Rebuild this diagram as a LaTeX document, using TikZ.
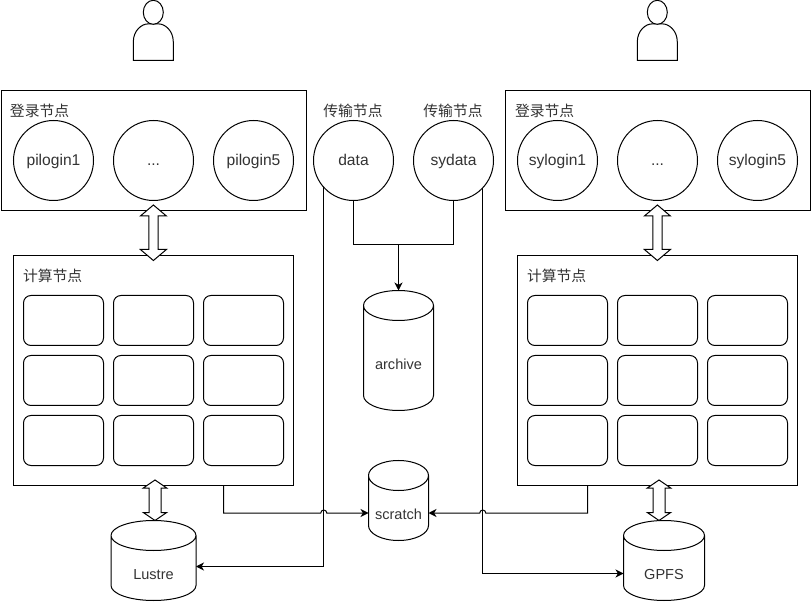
\documentclass[tikz,border=0pt]{standalone}
\usepackage{fontspec}
\setmainfont{Liberation Sans}
\newfontfamily\cjk{Noto Sans CJK SC}
\usetikzlibrary{arrows.meta,calc}
\tikzset{
  x=0.75pt,y=-0.75pt,
  every node/.style={text=black!80,inner sep=0pt,outer sep=0pt},
  line/.style={draw=black,line width=0.75pt},
  panel/.style={line,rectangle,anchor=north west},
  hostc/.style={line,circle,minimum size=60pt,font=\fontsize{11.7pt}{13pt}\selectfont},
  slot/.style={line,rectangle,rounded corners=5.6pt,minimum width=60pt,minimum height=37.5pt},
  store/.style={rectangle,font=\fontsize{10.9pt}{13pt}\selectfont},
  caption/.style={font=\cjk\fontsize{11.1pt}{13pt}\selectfont,text=black!80},
  link/.style={line,-{Stealth[length=6pt,width=6pt,inset=1.8pt]}},
  wire/.style={line},
}
\newcommand{\hostlabel}[1]{\raisebox{-4.1pt}[0pt][0pt]{#1}}
\newcommand{\storelabel}[1]{\raisebox{-13.9pt}[0pt][0pt]{#1}}
% x, ytop, ybot, half shaft, half head, head length
\newcommand{\dblarrow}[6]{%
  \draw[line,fill=white,line join=miter] (#1,#2)--(#1+#5,#2+#6)--(#1+#4,#2+#6)--(#1+#4,#3-#6)--(#1+#5,#3-#6)--(#1,#3)--(#1-#5,#3-#6)--(#1-#4,#3-#6)--(#1-#4,#2+#6)--(#1-#5,#2+#6)--cycle;
}
\newcommand{\personfig}[1]{%
  \draw[line] (#1-20,60.5)--(#1-20,42) .. controls (#1-20,30) and (#1-11,24) .. (#1-6,24)
     -- (#1+6,24) .. controls (#1+11,24) and (#1+20,30) .. (#1+20,42)--(#1+20,60.5)--cycle;
  \draw[line,fill=white] (#1,12.3) ellipse [x radius=7.5pt,y radius=9pt];
}
% name, cx, cy, w, h, text
\newcommand{\storage}[6]{%
  \node[store,minimum width=#4*0.75pt,minimum height=#5*0.75pt] (#1) at (#2,#3) {\storelabel{#6}};
  \draw[line] ($(#1.north west)+(0,15)$) arc[start angle=180,end angle=540,x radius=#4*0.375pt,y radius=11.25pt]
     -- ($(#1.south west)+(0,-15)$) arc[start angle=180,end angle=360,x radius=#4*0.375pt,y radius=11.25pt]
     -- ($(#1.north east)+(0,15)$);
}
\begin{document}
\begin{tikzpicture}
\useasboundingbox (0,0) rectangle (811,602);
\personfig{153.3}
\personfig{657.3}
% panels
\node[panel,minimum width=228.75pt,minimum height=90pt] (loginL) at (1,90.5) {};
\node[panel,minimum width=228.75pt,minimum height=90pt] (loginR) at (505,90.5) {};
\node[panel,minimum width=210pt,minimum height=172.5pt] (compL) at (13.5,255.5) {};
\node[panel,minimum width=210pt,minimum height=172.5pt] (compR) at (517.5,255.5) {};
\node[caption,anchor=west] (capA) at (10,111) {登录节点};
\node[caption,anchor=west] (capB) at (515,111) {登录节点};
\node[caption,anchor=west] (capC) at (23,276) {计算节点};
\node[caption,anchor=west] (capD) at (527,276) {计算节点};
\node[caption] (capE) at (353,111) {传输节点};
\node[caption] (capF) at (453,111) {传输节点};
% hosts
\node[hostc] (pi1) at (53.5,160.5) {\hostlabel{pilogin1}};
\node[hostc] (pi2) at (153.5,160.5) {\hostlabel{...}};
\node[hostc] (pi5) at (253.5,160.5) {\hostlabel{pilogin5}};
\node[hostc] (data) at (353.5,160.5) {\hostlabel{data}};
\node[hostc] (sydata) at (453.5,160.5) {\hostlabel{sydata}};
\node[hostc] (sy1) at (557.5,160.5) {\hostlabel{sylogin1}};
\node[hostc] (sy2) at (657.5,160.5) {\hostlabel{...}};
\node[hostc] (sy5) at (757.5,160.5) {\hostlabel{sylogin5}};
% compute slots
\foreach \cx/\pre in {63.5/a,153.5/b,243.5/c,567.5/d,657.5/e,747.5/f}{
  \foreach \cy/\r in {320.5/1,380.5/2,440.5/3}{
    \node[slot] (\pre\r) at (\cx,\cy) {};
  }
}
% storage
\storage{lustre}{153.5}{560.5}{85}{80}{Lustre}
\storage{gpfs}{664}{560.5}{81}{80}{GPFS}
\storage{scratch}{398.5}{500.5}{60}{80}{scratch}
\storage{archive}{398.5}{350.5}{70}{120}{archive}
% connectors
\coordinate (merge) at (398.5,245);
\draw[wire] (data.south) |- (merge);
\draw[wire] (sydata.south) |- (merge);
\draw[link] (merge) -- (archive.north);
\coordinate (lustreIn) at (lustre.east |- 0,566.5);
\draw[link] (data.222.5) -- (data.222.5 |- lustreIn) -- (lustreIn);
\coordinate (gpfsIn) at (gpfs.west |- 0,573.5);
\draw[link] (sydata.317.5) -- (sydata.317.5 |- gpfsIn) -- (gpfsIn);
\coordinate (scrL) at (scratch.west |- 0,513);
\coordinate (scrR) at (scratch.east |- 0,513);
\coordinate (outL) at (223.5,485.5);
\coordinate (outR) at (587.5,485.5);
\draw[link] (outL) |- ($(data.222.5 |- scrL)+(-3,0)$) arc[start angle=180,end angle=0,radius=2.25pt] -- (scrL);
\draw[link] (outR) |- ($(sydata.317.5 |- scrR)+(3,0)$) arc[start angle=0,end angle=180,radius=2.25pt] -- (scrR);
% double arrows
\dblarrow{153.4}{205}{260.5}{4.6}{13}{11}
\dblarrow{657.4}{205}{260.5}{4.6}{13}{11}
\dblarrow{155}{480}{520.5}{6}{11.7}{8}
\dblarrow{659}{480}{520.5}{6}{11.7}{8}
\end{tikzpicture}
\end{document}
